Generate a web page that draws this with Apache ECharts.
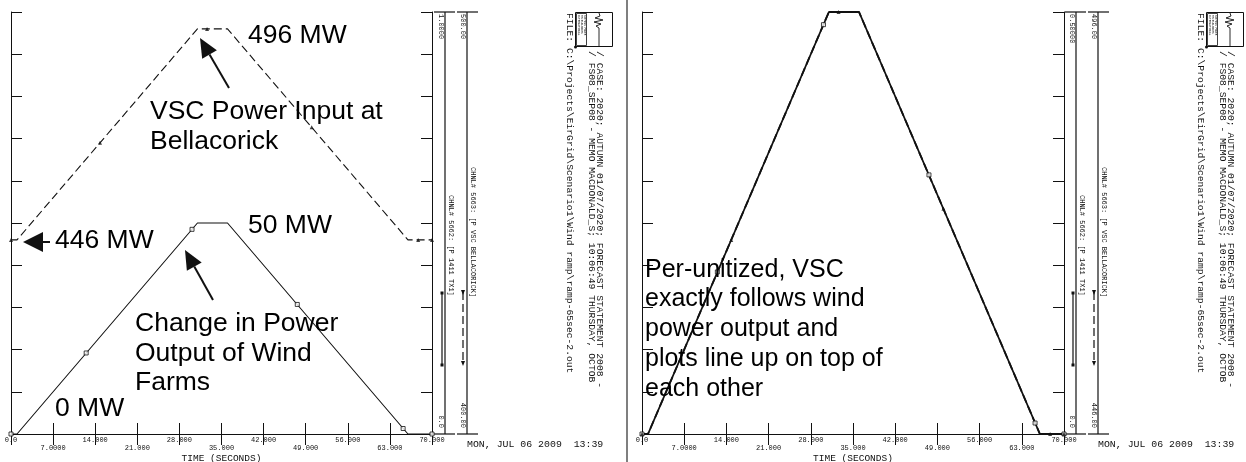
<!DOCTYPE html>
<html>
<head>
<meta charset="utf-8">
<script src="https://cdn.jsdelivr.net/npm/echarts@6/dist/echarts.min.js"></script>
<style>
  html, body { margin: 0; padding: 0; background: #fff; }
  #main { width: 1246px; height: 462px; }
</style>
</head>
<body>
<div id="main"></div>
<script>
// Time axis tick labels (seconds), one per 7 s division
const timeTicks = ['0.0', '7.0000', '14.000', '21.000', '28.000', '35.000', '42.000', '49.000', '56.000', '63.000', '70.000'];

// CHNL# 5662: [P 1411 TX1] – wind farm output, per unit
const windTime = [0, 1, 31, 36, 66, 70];
const windPu = [0, 0, 0.5, 0.5, 0, 0];

// CHNL# 5663: [P VSC BELLACORICK] – VSC power input, MW
const vscTime = [0, 1, 31, 36, 66, 70];
const vscMw = [446, 446, 496, 496, 446, 446];

// Plot-symbol sample points along each trace
const windMarkTime = [0, 12.5, 30.1, 47.6, 65.2, 70];
const windMarkPu = [0, 0.192, 0.485, 0.307, 0.013, 0];
const vscMarkTime = [0, 14.8, 32.6, 50.0, 67.7, 70];
const vscMarkMw = [446, 469, 496, 472.7, 446, 446];

// Channel scales: [bottom, top]
const leftWindScale = [0, 1];
const leftVscScale = [400, 500];
const rightWindScale = [0, 0.5];
const rightVscScale = [446, 496];

// Scale annotations printed beside each plot
const leftScaleText = { windTop: '1.0000', windBot: '0.0', vscTop: '500.00', vscBot: '400.00' };
const rightScaleText = { windTop: '0.50000', windBot: '0.0', vscTop: '496.00', vscBot: '446.00' };

const windChannel = 'CHNL# 5662: [P 1411 TX1]';
const vscChannel = 'CHNL# 5663: [P VSC BELLACORICK]';
const caseLine1 = '/ CASE: 2020; AUTUMN 01/07/2020; FORECAST STATEMENT 2008 -';
const caseLine2 = '/ FS08_SEP08 - MEMO MACDONALD_S; 10:06:49 THURSDAY, OCTOB';
const fileLine = 'FILE: C:\\Projects\\EirGrid\\Scenario1\\Wind ramp\\ramp-65sec-2.out';
const stamp = 'MON, JUL 06 2009  13:39';

const ink = '#111';
const mono = '"Liberation Mono", "DejaVu Sans Mono", monospace';
const sans = '"Liberation Sans", Arial, sans-serif';

const chart = echarts.init(document.getElementById('main'), null, { renderer: 'canvas' });

const frameLine = { show: true, lineStyle: { color: ink, width: 1 } };
const innerTick = { show: true, inside: true, length: 11, lineStyle: { color: ink, width: 1 } };

function timeAxes(gi) {
  return [
    {
      type: 'value', gridIndex: gi, position: 'bottom', min: 0, max: 70, interval: 7,
      axisLine: frameLine, axisTick: innerTick, splitLine: { show: false },
      axisLabel: {
        margin: 2, fontFamily: mono, fontSize: 7, lineHeight: 8, color: ink,
        showMinLabel: true, showMaxLabel: true, hideOverlap: false,
        formatter: function (v) {
          const i = Math.round(v / 7);
          return i % 2 ? '\n' + timeTicks[i] : timeTicks[i];
        }
      },
      name: 'TIME (SECONDS)', nameLocation: 'middle', nameGap: 19, nameMoveOverlap: false,
      nameTextStyle: { fontFamily: mono, fontSize: 9.5, color: ink, verticalAlign: 'top' }
    },
    {
      type: 'value', gridIndex: gi, position: 'top', min: 0, max: 70, interval: 7,
      axisLine: frameLine, axisTick: innerTick, axisLabel: { show: false }, splitLine: { show: false }
    }
  ];
}

function channelAxes(gi, windScale, vscScale) {
  const step = (windScale[1] - windScale[0]) / 10;
  return [
    {
      type: 'value', gridIndex: gi, position: 'left', min: windScale[0], max: windScale[1], interval: step,
      axisLine: frameLine, axisTick: innerTick, axisLabel: { show: false }, splitLine: { show: false }
    },
    { type: 'value', gridIndex: gi, position: 'right', min: vscScale[0], max: vscScale[1], show: false },
    {
      type: 'value', gridIndex: gi, position: 'right', min: windScale[0], max: windScale[1], interval: step,
      axisLine: frameLine, axisTick: innerTick, axisLabel: { show: false }, splitLine: { show: false }
    }
  ];
}

function traces(gi, lw) {
  return [
    {
      type: 'line', xAxisIndex: gi * 2, yAxisIndex: gi * 3, symbol: 'none', z: 3,
      data: windTime.map((t, i) => [t, windPu[i]]),
      lineStyle: { color: ink, width: lw }
    },
    {
      type: 'line', xAxisIndex: gi * 2, yAxisIndex: gi * 3 + 1, symbol: 'none', z: 4,
      data: vscTime.map((t, i) => [t, vscMw[i]]),
      lineStyle: { color: ink, width: lw, type: [8, 4] }
    },
    {
      type: 'scatter', xAxisIndex: gi * 2, yAxisIndex: gi * 3, symbol: 'rect', symbolSize: 4, z: 5,
      data: windMarkTime.map((t, i) => [t, windMarkPu[i]]),
      itemStyle: { color: '#fff', borderColor: ink, borderWidth: 1 }
    },
    {
      type: 'scatter', xAxisIndex: gi * 2, yAxisIndex: gi * 3 + 1, symbol: 'triangle', symbolSize: 4, z: 5,
      data: vscMarkTime.map((t, i) => [t, vscMarkMw[i]]),
      itemStyle: { color: ink }
    }
  ];
}

// rotated (clockwise) monospace text; x is the glyph-top edge
function vtext(x, y, text, size, align) {
  return {
    type: 'text', x: x, y: y, rotation: -Math.PI / 2, silent: true,
    style: {
      text: text, x: 0, y: 0, font: size + 'px ' + mono, fill: ink,
      align: align, textAlign: align, verticalAlign: 'top', textVerticalAlign: 'top'
    }
  };
}

function seg(x1, y1, x2, y2, w, extra) {
  return {
    type: 'line', silent: true,
    shape: { x1: x1, y1: y1, x2: x2, y2: y2 },
    style: Object.assign({ stroke: ink, lineWidth: w || 1 }, extra || {})
  };
}

function arrow(tip, tail, headLen, headW) {
  const dx = tail[0] - tip[0], dy = tail[1] - tip[1];
  const len = Math.sqrt(dx * dx + dy * dy);
  const ux = dx / len, uy = dy / len;
  const bx = tip[0] + ux * headLen, by = tip[1] + uy * headLen;
  const px = -uy * headW / 2, py = ux * headW / 2;
  return [
    seg(bx, by, tail[0], tail[1], 2),
    { type: 'polygon', silent: true, shape: { points: [tip, [bx + px, by + py], [bx - px, by - py]] }, style: { fill: ink } }
  ];
}

function sideBlock(dx, s) {
  const out = [];
  // two channel scale bars
  out.push(seg(dx + 445, 12, dx + 445, 434, 1.2));
  out.push(seg(dx + 434, 12, dx + 455, 12, 1.2));
  out.push(seg(dx + 434, 434, dx + 455, 434, 1.2));
  out.push(seg(dx + 467, 12, dx + 467, 434, 1.2));
  out.push(seg(dx + 457, 12, dx + 478, 12, 1.2));
  out.push(seg(dx + 457, 434, dx + 478, 434, 1.2));
  out.push(vtext(dx + 444, 14, s.windTop, 7, 'left'));
  out.push(vtext(dx + 444, 428, s.windBot, 7, 'right'));
  out.push(vtext(dx + 466, 14, s.vscTop, 7, 'left'));
  out.push(vtext(dx + 466, 428, s.vscBot, 7, 'right'));
  out.push(vtext(dx + 454, 195, windChannel, 7, 'left'));
  out.push(vtext(dx + 476, 167, vscChannel, 7, 'left'));
  // legend samples
  out.push(seg(dx + 442, 293, dx + 442, 365, 1.2));
  out.push({ type: 'rect', silent: true, shape: { x: dx + 440.5, y: 291.5, width: 3, height: 3 }, style: { fill: ink } });
  out.push({ type: 'rect', silent: true, shape: { x: dx + 440.5, y: 363.5, width: 3, height: 3 }, style: { fill: ink } });
  out.push(seg(dx + 463, 292, dx + 463, 363, 1.2, { lineDash: [8, 4] }));
  out.push({ type: 'polygon', silent: true, shape: { points: [[dx + 461, 290], [dx + 465, 290], [dx + 463, 295]] }, style: { fill: ink } });
  out.push({ type: 'polygon', silent: true, shape: { points: [[dx + 461, 361], [dx + 465, 361], [dx + 463, 366]] }, style: { fill: ink } });
  // logo
  out.push({ type: 'rect', silent: true, shape: { x: dx + 575.5, y: 12.5, width: 37, height: 34 }, style: { fill: '#fff', stroke: ink, lineWidth: 1 } });
  out.push({ type: 'rect', silent: true, shape: { x: dx + 576.5, y: 13.5, width: 10, height: 32 }, style: { fill: '#fff', stroke: ink, lineWidth: 0.8 } });
  out.push(vtext(dx + 586, 15, 'SIEMENS POWER', 2.6, 'left'));
  out.push(vtext(dx + 583, 15, 'TECHNOLOGIES', 2.6, 'left'));
  out.push(vtext(dx + 580, 15, 'INTERNATIONAL', 2.6, 'left'));
  out.push({
    type: 'polyline', silent: true,
    shape: { points: [[dx + 599, 46], [dx + 599, 28], [dx + 596, 26], [dx + 601, 24], [dx + 594, 22], [dx + 603, 20], [dx + 595, 18], [dx + 600, 16], [dx + 599, 13]] },
    style: { stroke: ink, lineWidth: 0.9, fill: null }
  });
  out.push({ type: 'circle', silent: true, shape: { cx: dx + 575.5, cy: 47, r: 1.5 }, style: { fill: ink } });
  // case / file stamp
  out.push(vtext(dx + 605, 51, caseLine1, 9.7, 'left'));
  out.push(vtext(dx + 597, 51, caseLine2, 9.7, 'left'));
  out.push(vtext(dx + 575, 13, fileLine, 9.7, 'left'));
  out.push({
    type: 'text', silent: true,
    style: { text: stamp, x: dx + 467, y: 444, font: '9.9px ' + mono, fill: ink, verticalAlign: 'middle', textVerticalAlign: 'middle' }
  });
  return out;
}

function note(x, y, text, size, lh) {
  return {
    type: 'text', silent: true, z: 10,
    style: { text: text, x: x, y: y, font: size + 'px ' + sans, fill: '#000', lineHeight: lh, verticalAlign: 'top', textVerticalAlign: 'top' }
  };
}

const graphics = [].concat(
  sideBlock(0, leftScaleText),
  sideBlock(631, rightScaleText),
  [seg(627, 0, 627, 462, 1.5, { stroke: '#555' })],
  [
    note(248, 21, '496 MW', 26.5, 30),
    note(150, 97, 'VSC Power Input at\nBellacorick', 26.5, 29.5),
    note(55, 226, '446 MW', 26.5, 30),
    note(248, 211, '50 MW', 26.5, 30),
    note(135, 309, 'Change in Power\nOutput of Wind\nFarms', 26.5, 29.5),
    note(55, 394, '0 MW', 26.5, 30),
    note(645, 255, 'Per-unitized, VSC\nexactly follows wind\npower output and\nplots line up on top of\neach other', 25, 29.7)
  ],
  arrow([200, 38], [229, 88], 19, 17),
  arrow([185, 250], [213, 300], 19, 17),
  arrow([23, 242], [50, 242], 20, 20)
);

const option = {
  animation: false,
  backgroundColor: '#fff',
  grid: [
    { left: 11, top: 12, width: 421, height: 422, containLabel: false, outerBoundsMode: 'none' },
    { left: 642, top: 12, width: 422, height: 422, containLabel: false, outerBoundsMode: 'none' }
  ],
  xAxis: [].concat(timeAxes(0), timeAxes(1)),
  yAxis: [].concat(channelAxes(0, leftWindScale, leftVscScale), channelAxes(1, rightWindScale, rightVscScale)),
  series: [].concat(traces(0, 1.1), traces(1, 1.8)),
  graphic: { elements: graphics }
};

chart.setOption(option);
</script>
</body>
</html>
